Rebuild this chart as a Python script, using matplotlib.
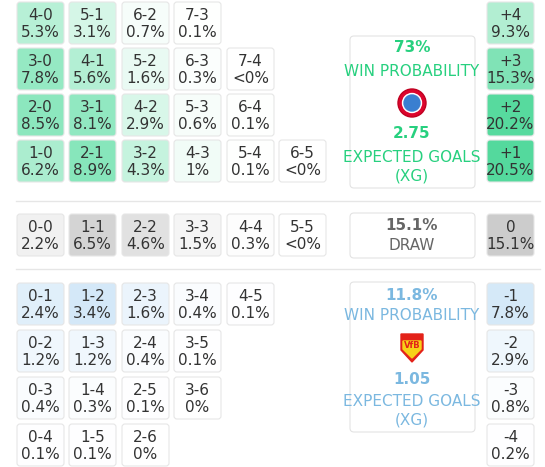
import matplotlib
matplotlib.use("Agg")
import matplotlib.pyplot as plt
from matplotlib.patches import FancyBboxPatch, Circle, Polygon
import numpy as np

plt.rcParams['font.family'] = ['Liberation Sans Narrow', 'DejaVu Sans']

home_rows = [
    [("4-0", 5.3), ("5-1", 3.1), ("6-2", 0.7), ("7-3", 0.1)],
    [("3-0", 7.8), ("4-1", 5.6), ("5-2", 1.6), ("6-3", 0.3), ("7-4", "<0%")],
    [("2-0", 8.5), ("3-1", 8.1), ("4-2", 2.9), ("5-3", 0.6), ("6-4", 0.1)],
    [("1-0", 6.2), ("2-1", 8.9), ("3-2", 4.3), ("4-3", 1.0), ("5-4", 0.1), ("6-5", "<0%")],
]
draw_row = [("0-0", 2.2), ("1-1", 6.5), ("2-2", 4.6), ("3-3", 1.5), ("4-4", 0.3), ("5-5", "<0%")]
away_rows = [
    [("0-1", 2.4), ("1-2", 3.4), ("2-3", 1.6), ("3-4", 0.4), ("4-5", 0.1)],
    [("0-2", 1.2), ("1-3", 1.2), ("2-4", 0.4), ("3-5", 0.1)],
    [("0-3", 0.4), ("1-4", 0.3), ("2-5", 0.1), ("3-6", 0.0)],
    [("0-4", 0.1), ("1-5", 0.1), ("2-6", 0.0)],
]
home_margin = [("+4", 9.3), ("+3", 15.3), ("+2", 20.2), ("+1", 20.5)]
draw_margin = [("0", 15.1)]
away_margin = [("-1", 7.8), ("-2", 2.9), ("-3", 0.8), ("-4", 0.2)]
home_win, home_xg = "73%", "2.75"
draw_prob = "15.1%"
away_win, away_xg = "11.8%", "1.05"

GREEN = "#27d07f"; BLUE = "#7bb8e0"; GREYT = "#666666"

fig = plt.figure(figsize=(5.45, 4.67), dpi=100)
ax = fig.add_axes([0, 0, 1, 1])
ax.set_xlim(0, 545); ax.set_ylim(467, 0); ax.axis("off")

def mix(base, t):
    t = max(0.0, min(1.0, t))
    b = np.array(matplotlib.colors.to_rgb(base))
    return tuple(1 - (1 - b) * t)

def fmt(v):
    if isinstance(v, str): return v
    if v == int(v) and v >= 1: return f"{int(v)}%"
    if v == 0: return "0%"
    return f"{v:g}%"

def cell(x, y, w, h, lab, v, base, ref):
    t = 0 if isinstance(v, str) else v / ref
    ax.add_patch(FancyBboxPatch((x + 1, y + 1), w - 2, h - 2, boxstyle="round,pad=0,rounding_size=3",
                                fc=mix(base, t), ec="#e6e6e6", lw=0.8))
    ax.text(x + w / 2, y + h * 0.33, lab, ha="center", va="center", fontsize=11, color="#333333")
    ax.text(x + w / 2, y + h * 0.72, fmt(v), ha="center", va="center", fontsize=11, color="#333333")

xs = [16, 68, 121, 173, 226, 278]
W = 49; H = 44
for i, row in enumerate(home_rows):
    for j, (lab, v) in enumerate(row):
        cell(xs[j], 1 + i * 46, W, H, lab, v, "#4fda9b", 13)
for j, (lab, v) in enumerate(draw_row):
    cell(xs[j], 213, W, H, lab, v, "#c4c4c4", 9)
for i, row in enumerate(away_rows):
    for j, (lab, v) in enumerate(row):
        cell(xs[j], 282 + i * 47, W, H, lab, v, "#b9daf4", 5.5)
for i, (lab, v) in enumerate(home_margin):
    cell(486, 1 + i * 46, W, H, lab, v, "#37d38c", 24)
cell(486, 213, W, H, draw_margin[0][0], draw_margin[0][1], "#b8b8b8", 21)
for i, (lab, v) in enumerate(away_margin):
    cell(486, 282 + i * 47, W, H, lab, v, "#b9daf4", 13)

ax.plot([16, 540], [201, 201], color="#e6e6e6", lw=1)
ax.plot([16, 540], [269, 269], color="#e6e6e6", lw=1)

def box(y0, y1):
    ax.add_patch(FancyBboxPatch((350, y0), 125, y1 - y0, boxstyle="round,pad=0,rounding_size=4",
                                fc="white", ec="#e3e3e3", lw=0.8))

box(36, 188)
ax.text(412, 48, home_win, ha="center", va="center", fontsize=11, color=GREEN, weight="bold")
ax.text(412, 71, "WIN PROBABILITY", ha="center", va="center", fontsize=11, color=GREEN)
ax.add_patch(Circle((412, 103), 14, fc="#dc052d", ec="#c00020"))
ax.add_patch(Circle((412, 103), 9.5, fc="white", ec="white"))
ax.add_patch(Circle((412, 103), 8, fc="#3a7fd0", ec="#3a7fd0"))
ax.text(412, 134, home_xg, ha="center", va="center", fontsize=11, color=GREEN, weight="bold")
ax.text(412, 157, "EXPECTED GOALS", ha="center", va="center", fontsize=11, color=GREEN)
ax.text(412, 176, "(XG)", ha="center", va="center", fontsize=11, color=GREEN)

box(213, 258)
ax.text(412, 226, draw_prob, ha="center", va="center", fontsize=11, color=GREYT, weight="bold")
ax.text(412, 245, "DRAW", ha="center", va="center", fontsize=11, color=GREYT)

box(282, 432)
ax.text(412, 296, away_win, ha="center", va="center", fontsize=11, color=BLUE, weight="bold")
ax.text(412, 316, "WIN PROBABILITY", ha="center", va="center", fontsize=11, color=BLUE)
ax.add_patch(Polygon([(401, 334), (423, 334), (423, 350), (412, 362), (401, 350)], fc="#e32219", ec="#e32219"))
ax.add_patch(Polygon([(403, 341), (421, 341), (421, 349), (412, 358), (403, 349)], fc="#f7d117", ec="#f7d117"))
ax.text(412, 346, "VfB", ha="center", va="center", fontsize=6, color="#e32219", weight="bold")
ax.text(412, 379, away_xg, ha="center", va="center", fontsize=11, color=BLUE, weight="bold")
ax.text(412, 401, "EXPECTED GOALS", ha="center", va="center", fontsize=11, color=BLUE)
ax.text(412, 420, "(XG)", ha="center", va="center", fontsize=11, color=BLUE)

fig.savefig("out.png", dpi=100)
